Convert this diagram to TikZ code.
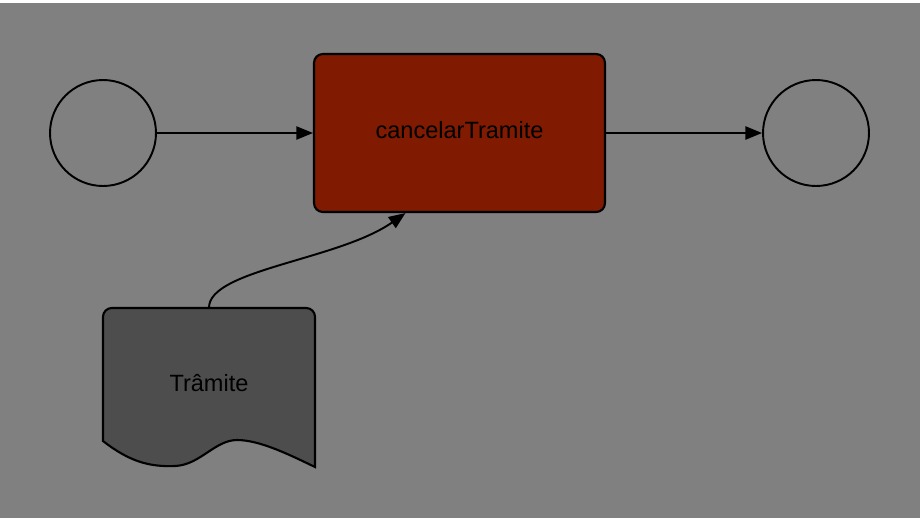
\documentclass[tikz,border=0pt]{standalone}
\usepackage{fontspec}
\setmainfont{Liberation Sans}
\usepackage{tikz}
\usetikzlibrary{arrows.meta, positioning, calc}

\definecolor{bggray}{RGB}{128,128,128}
\definecolor{taskred}{RGB}{128,26,0}
\definecolor{docgray}{RGB}{77,77,77}

\begin{document}
\begin{tikzpicture}[
    x=0.02cm, y=-0.02cm,
    event/.style={circle, draw=black, line width=1.1pt, minimum size=2.12cm, inner sep=0pt},
    task/.style={rectangle, draw=black, fill=#1, line width=1.2pt, rounded corners=5pt, minimum width=5.82cm, minimum height=3.16cm, text depth=0.3em, font=\fontsize{13.4}{15}\selectfont},
    task/.default={taskred},
    docbox/.style={rectangle, minimum width=4.24cm, minimum height=3.18cm, text depth=0.5em, font=\fontsize{13.4}{15}\selectfont},
    arrow/.style={-{Triangle[length=9.5pt, width=7.5pt]}, line width=1.1pt, #1},
    arrow/.default={black}
]

% === FONDO ===
\useasboundingbox (0,0) rectangle (922,518);
\fill[white] (0,0) rectangle (922,518);
\fill[bggray] (0,3) rectangle (920,518);

% === EVENTOS Y TAREA ===
\node[event] (inicio) at (103,133) {};
\node[task] (cancelar) at (459.5,133) {cancelarTramite};
\node[event] (fim) at (816,133) {};

% === DOCUMENTO ===
\node[docbox] (tramite) at (209,387.5) {};
\draw[fill=docgray, line width=1.2pt]
    (103,441) [rounded corners=5pt] -- (103,308) -- (315,308) [sharp corners] -- (315,467)
    .. controls (290,455) and (260,440) .. (237,440)
    .. controls (215,440) and (200,465) .. (175,466)
    .. controls (150,467) and (130,462) .. (103,441) -- cycle;
\node[docbox] at (tramite.center) {Trâmite};

% === FLECHAS ===
\draw[arrow] (inicio.east) -- (cancelar.west);
\draw[arrow] (cancelar.east) -- (fim.west);
\coordinate (entrada) at (cancelar.236);
\draw[arrow] (tramite.north) .. controls +(0,-38) and +(-67,47) .. (entrada);

\end{tikzpicture}
\end{document}
